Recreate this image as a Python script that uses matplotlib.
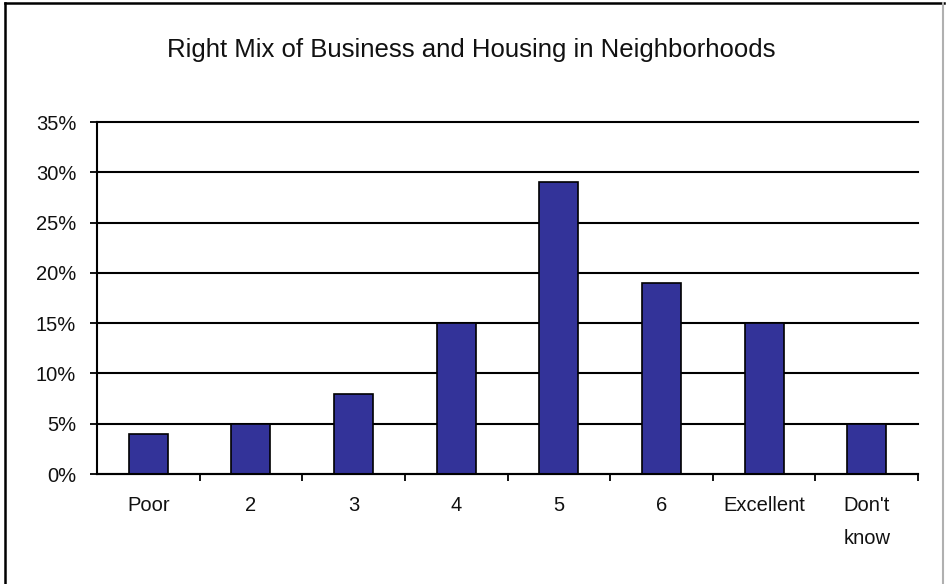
import matplotlib.pyplot as plt
from matplotlib.lines import Line2D
from matplotlib.ticker import FixedLocator

# Survey answers (percent of respondents)
categories = ["Poor", "2", "3", "4", "5", "6", "Excellent", "Don't\nknow"]
shares = [4, 5, 8, 15, 29, 19, 15, 5]
y_ticks = [0, 5, 10, 15, 20, 25, 30, 35]

plt.rcParams['font.family'] = ['Liberation Sans', 'DejaVu Sans']

W, H = 947, 584
fig = plt.figure(figsize=(W / 100, H / 100), dpi=100)
ax = fig.add_axes([97 / W, 1 - 474 / H, (918 - 97) / W, (474 - 122) / H])

# Bars
x = list(range(len(categories)))
ax.bar(x, shares, width=0.38, color="#333399", edgecolor="black", linewidth=1.2, zorder=3)

# Axes limits and grid
ax.set_xlim(-0.5, len(categories) - 0.5)
ax.set_ylim(0, 35)
ax.set_yticks(y_ticks)
ax.set_yticklabels([f"{v}%" for v in y_ticks], fontsize=14.5, color="#111111")
ax.yaxis.grid(True, color="black", linewidth=1.5, zorder=0)
ax.set_axisbelow(True)
for line in ax.get_ygridlines():
    line.set_clip_on(False)

ax.set_xticks(x)
ax.set_xticklabels(categories, fontsize=14.5, linespacing=1.95, va="top", color="#111111")
ax.tick_params(axis="x", which="major", length=0, pad=16)
ax.xaxis.set_minor_locator(FixedLocator([i + 0.5 for i in x]))
ax.tick_params(axis="x", which="minor", length=5, width=1.3, color="black", direction="out")
ax.tick_params(axis="y", length=5, width=1.3, color="black", pad=10)

for side in ["top", "right"]:
    ax.spines[side].set_visible(False)
for side in ["left", "bottom"]:
    ax.spines[side].set_linewidth(1.5)
    ax.spines[side].set_zorder(4)

# Title
fig.text(0.5 * (165 + 777) / W, 1 - 57 / H, "Right Mix of Business and Housing in Neighborhoods",
         ha="center", va="baseline", fontsize=18.5, color="#111111")

# Outer frame: dark left/top edges, light right edge
fig.add_artist(Line2D([5 / W, 5 / W], [0, 1 - 3 / H], transform=fig.transFigure, color="black", linewidth=1.8))
fig.add_artist(Line2D([5 / W, 944 / W], [1 - 3 / H, 1 - 3 / H], transform=fig.transFigure, color="black", linewidth=1.8))
fig.add_artist(Line2D([943 / W, 943 / W], [0, 1 - 3 / H], transform=fig.transFigure, color="#b0b0b0", linewidth=1.5))

fig.savefig("out.png", dpi=100, facecolor="white")
